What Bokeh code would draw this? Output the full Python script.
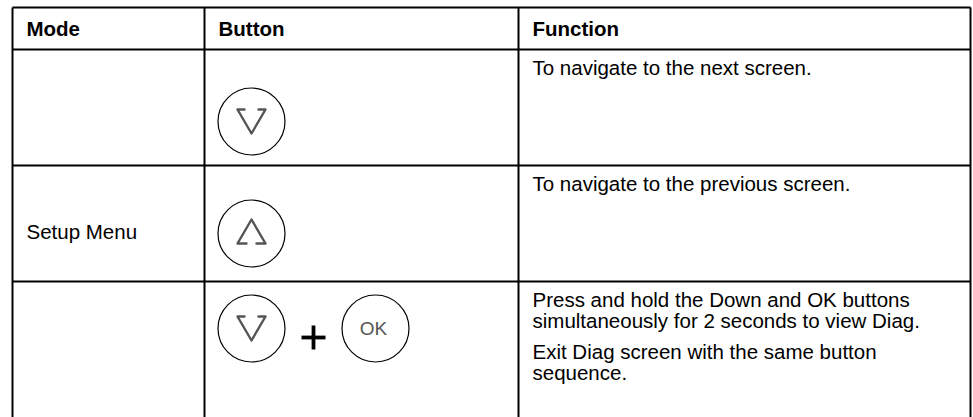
from bokeh.plotting import figure
from bokeh.models import Range1d
from bokeh.core.properties import value
from bokeh.embed import file_html
from bokeh.resources import INLINE

# ---- table content ----
headers = ["Mode", "Button", "Function"]
mode_label = "Setup Menu"
row_buttons = [["down"], ["up"], ["down", "+", "OK"]]
row_functions = [
    ["To navigate to the next screen."],
    ["To navigate to the previous screen."],
    ["Press and hold the Down and OK buttons",
     "simultaneously for 2 seconds to view Diag.",
     "",
     "Exit Diag screen with the same button",
     "sequence."],
]

# ---- layout (page pixel coordinates) ----
col_edges = [12, 204, 518, 970]
row_edges = [7, 49, 165, 281, 440]
pad_x = 14
font = "Liberation Sans"
fs = "20.5px"
icon_y = [121, 233, 328]
btn_x0 = 251
btn_step = 62
circle_r = 33.5
line_h = 21
blank_h = 10

W, H = 973, 417
p = figure(width=W, height=H, x_range=Range1d(0, W), y_range=Range1d(H, 0),
           output_backend="svg", toolbar_location=None, min_border=0)
p.axis.visible = False
p.grid.visible = False
p.outline_line_color = None
p.background_fill_color = "white"
p.border_fill_color = "white"

# horizontal rules
x0, x1 = col_edges[0], col_edges[-1]
hy = row_edges[:-1]
p.segment(x0=[x0] * len(hy), y0=hy, x1=[x1] * len(hy), y1=hy,
          line_color="black", line_width=2)
# vertical rules
p.segment(x0=col_edges, y0=[row_edges[0]] * len(col_edges), x1=col_edges,
          y1=[row_edges[-1]] * len(col_edges), line_color="black", line_width=2)

# headers
hy_c = (row_edges[0] + row_edges[1]) / 2
p.text(x=[c + pad_x for c in col_edges[:3]], y=[hy_c] * 3, text=headers,
       text_font=value(font), text_font_size=fs, text_font_style="bold",
       text_baseline="middle", text_align="left", text_color="black")

# mode label (merged cell)
p.text(x=[col_edges[0] + pad_x], y=[231], text=[mode_label],
       text_font=value(font), text_font_size=fs, text_baseline="middle",
       text_align="left", text_color="black")

# function texts
fx, fy, ft = [], [], []
for r, lines in enumerate(row_functions):
    y = row_edges[r + 1] + 18
    for ln in lines:
        if ln == "":
            y += blank_h
            continue
        fx.append(col_edges[2] + pad_x); fy.append(y); ft.append(ln)
        y += line_h
p.text(x=fx, y=fy, text=ft, text_font=value(font), text_font_size=fs,
       text_baseline="middle", text_align="left", text_color="black")

# buttons
cx, cy = [], []
tri_xs, tri_ys = [], []
ok_x, ok_y = [], []
plus_x, plus_y = [], []
for r, btns in enumerate(row_buttons):
    yc = icon_y[r]
    xc = btn_x0
    for b in btns:
        if b == "+":
            plus_x.append(xc); plus_y.append(yc + 9)
            xc += btn_step
            continue
        cx.append(xc); cy.append(yc)
        if b == "down":
            tri_xs.append([xc - 7, xc - 14, xc, xc + 14, xc + 7])
            tri_ys.append([yc - 12, yc - 12, yc + 12, yc - 12, yc - 12])
        elif b == "up":
            tri_xs.append([xc - 5, xc - 14, xc, xc + 14, xc + 5])
            tri_ys.append([yc + 10, yc + 10, yc - 14, yc + 10, yc + 10])
        elif b == "OK":
            ok_x.append(xc - 2); ok_y.append(yc)
        xc += btn_step

p.circle(x=cx, y=cy, radius=circle_r, fill_color=None, line_color="black", line_width=1.2)
p.multi_line(xs=tri_xs, ys=tri_ys, line_color="#555555", line_width=2.4,
             line_join="round", line_cap="round")
p.text(x=ok_x, y=ok_y, text=["OK"] * len(ok_x), text_font=value(font), text_font_size="19px",
       text_baseline="middle", text_align="center", text_color="#555555")
for px, py in zip(plus_x, plus_y):
    p.segment(x0=[px - 12, px], y0=[py, py - 12], x1=[px + 12, px], y1=[py, py + 12],
              line_color="black", line_width=3.8)

open("out.html", "w").write(file_html(p, INLINE))
